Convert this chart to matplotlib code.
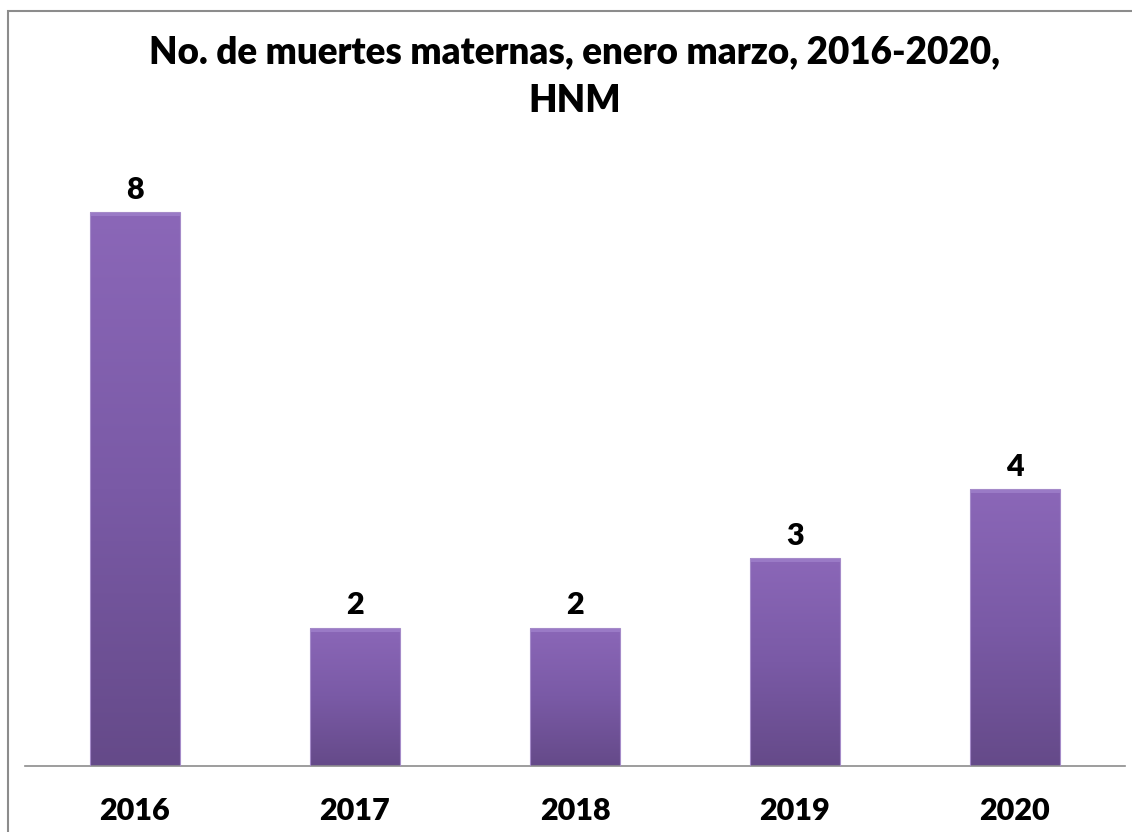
import matplotlib
matplotlib.use("Agg")
import matplotlib.pyplot as plt
import numpy as np
from matplotlib.patches import Rectangle
from matplotlib.colors import LinearSegmentedColormap

years = ["2016", "2017", "2018", "2019", "2020"]
deaths = [8, 2, 2, 3, 4]
title_line1 = "No. de muertes maternas, enero marzo, 2016-2020,"
title_line2 = "HNM"

plt.rcParams['font.family'] = ['Lato', 'DejaVu Sans']

W, H = 1132, 832
fig = plt.figure(figsize=(W / 100, H / 100), dpi=100)
fig.patch.set_facecolor("white")

# outer chart border (extends past right/bottom edges)
fig.patches.append(Rectangle((8 / W, -0.05), 1.2, (H - 11) / H + 0.05,
                             transform=fig.transFigure, fill=False,
                             edgecolor="#8c8c8c", linewidth=1.5))

ax = fig.add_axes([25 / W, 66 / H, 1100 / W, 623 / H])
ax.set_xlim(-0.5, len(years) - 0.5)
ax.set_ylim(0, 9)

x = np.arange(len(years))
bars = ax.bar(x, deaths, width=0.405, color="none", edgecolor="#a58bc9",
              linewidth=0.8, zorder=3)

cmap = LinearSegmentedColormap.from_list("purp", ["#654a89", "#7a5aa6", "#8b67b8"])
grad = np.linspace(0, 1, 256).reshape(-1, 1)
for b in bars:
    x0, y0 = b.get_x(), b.get_y()
    w, h = b.get_width(), b.get_height()
    im = ax.imshow(grad, cmap=cmap, aspect="auto", origin="lower",
                   extent=(x0, x0 + w, y0, y0 + h), zorder=2)
    im.set_clip_path(b)
    ax.add_patch(Rectangle((x0, y0 + h - 0.06), w, 0.06, facecolor="#9a7ac6",
                           edgecolor="none", zorder=2.5))

for xi, v in zip(x, deaths):
    ax.annotate(str(v), (xi, v), xytext=(0, 6), textcoords="offset points",
                ha="center", va="bottom", fontsize=22, fontweight="heavy",
                color="black")

ax.set_xticks(x)
ax.set_xticklabels(years, fontsize=22, fontweight="heavy")
ax.tick_params(axis="x", length=0, pad=22)
ax.set_yticks([])
for s in ["top", "right", "left"]:
    ax.spines[s].set_visible(False)
ax.spines["bottom"].set_color("#8c8c8c")
ax.spines["bottom"].set_linewidth(1.2)
ax.set_xlim(-0.5, len(years) - 0.5)
ax.set_ylim(0, 9)

fig.text(575 / W, 1 - 52 / H, title_line1, ha="center", va="center",
         fontsize=26.5, fontweight="heavy")
fig.text(575 / W, 1 - 101 / H, title_line2, ha="center", va="center",
         fontsize=26.5, fontweight="heavy")

fig.savefig("out.png", dpi=100)
